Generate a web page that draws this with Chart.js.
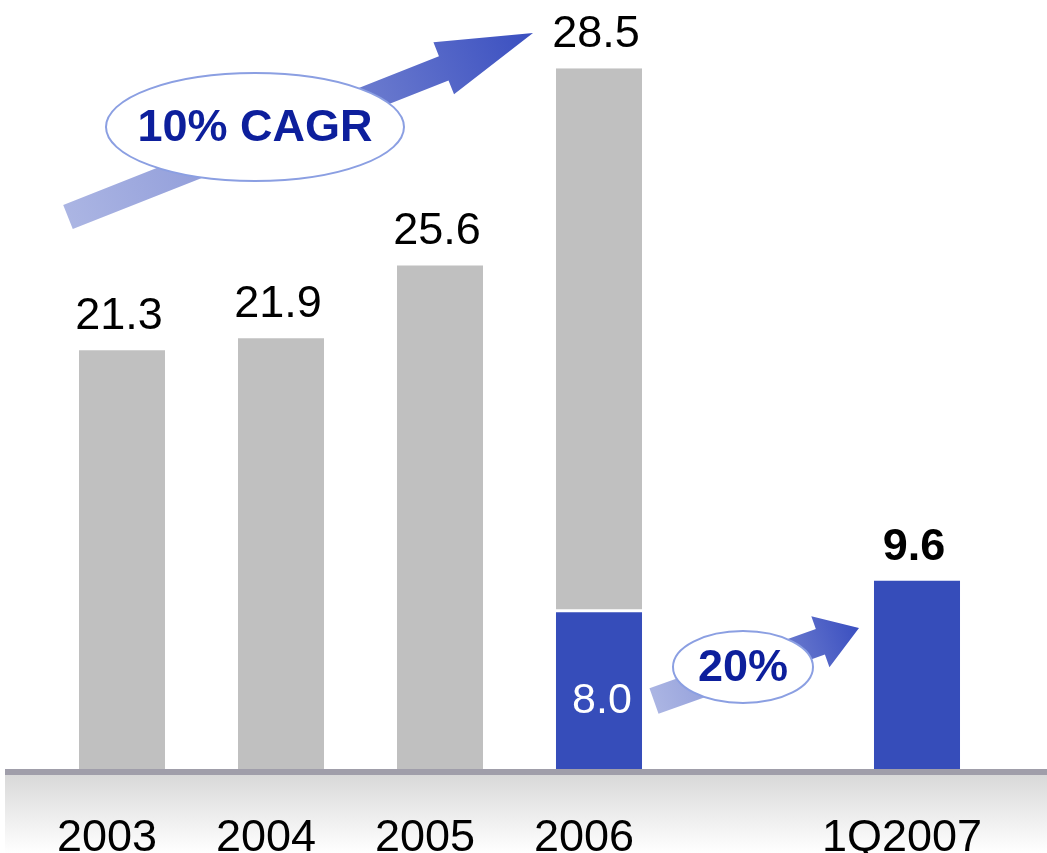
<!DOCTYPE html>
<html>
<head>
<meta charset="utf-8">
<script src="https://cdn.jsdelivr.net/npm/chart.js@4/dist/chart.umd.min.js"></script>
<style>
  html, body { margin: 0; padding: 0; background: #fff; }
  #wrap { width: 1047px; height: 853px; position: relative; }
</style>
</head>
<body>
<div id="wrap"><canvas id="chart"></canvas></div>
<script>
'use strict';

// 데이터
const categories  = ['2003', '2004', '2005', '2006', '', '1Q2007'];
const grayValues  = [21.3, 21.9, 25.6, 27.6, null, null];   // 2006 회색 구간은 그림의 막대 높이 기준
const blueValues  = [null, null, null, 8.0, null, 9.6];
const totalLabels = ['21.3', '21.9', '25.6', '28.5', '', '9.6'];
const innerLabels = ['', '', '', '8.0', '', ''];
const cagrText    = '10% CAGR';
const growthText  = '20%';

const FONT  = '"Liberation Sans", Arial, sans-serif';
const GRAY  = '#c0c0c0';
const BLUE  = '#364dba';
const NAVY  = '#0d1f9c';

// 화살표 (꼬리 → 끝)
function drawArrow(ctx, x0, y0, x1, y1, shaftHalf, headHalf, headLen) {
  const dx = x1 - x0, dy = y1 - y0;
  const len = Math.hypot(dx, dy);
  const ux = dx / len, uy = dy / len;
  const nx = -uy, ny = ux;
  const bx = x1 - ux * headLen, by = y1 - uy * headLen;

  const grad = ctx.createLinearGradient(x0, y0, x1, y1);
  grad.addColorStop(0, '#abb5e3');
  grad.addColorStop(0.45, '#8592d6');
  grad.addColorStop(1, '#3a4fc0');

  ctx.save();
  ctx.fillStyle = grad;
  ctx.beginPath();
  ctx.moveTo(x0 + nx * shaftHalf, y0 + ny * shaftHalf);
  ctx.lineTo(bx + nx * shaftHalf, by + ny * shaftHalf);
  ctx.lineTo(bx + nx * headHalf,  by + ny * headHalf);
  ctx.lineTo(x1, y1);
  ctx.lineTo(bx - nx * headHalf,  by - ny * headHalf);
  ctx.lineTo(bx - nx * shaftHalf, by - ny * shaftHalf);
  ctx.lineTo(x0 - nx * shaftHalf, y0 - ny * shaftHalf);
  ctx.closePath();
  ctx.fill();
  ctx.restore();
}

function drawBadge(ctx, cx, cy, rx, ry, text) {
  ctx.save();
  ctx.beginPath();
  ctx.ellipse(cx, cy, rx, ry, 0, 0, Math.PI * 2);
  ctx.fillStyle = '#ffffff';
  ctx.fill();
  ctx.lineWidth = 2;
  ctx.strokeStyle = '#8b9fe2';
  ctx.stroke();
  ctx.fillStyle = NAVY;
  ctx.font = `bold 45px ${FONT}`;
  ctx.textAlign = 'center';
  ctx.textBaseline = 'middle';
  ctx.fillText(text, cx, cy + 2);
  ctx.restore();
}

const decorPlugin = {
  id: 'decor',
  afterDatasetsDraw(chart) {
    const { ctx, chartArea, scales } = chart;
    const xs = scales.x, ys = scales.y;
    const base = chartArea.bottom;

    // 바닥 띠 + 기준선
    const band = ctx.createLinearGradient(0, base + 5, 0, chart.height);
    band.addColorStop(0, '#d9d9d9');
    band.addColorStop(1, '#ffffff');
    ctx.fillStyle = band;
    ctx.fillRect(5, base + 5, chart.width - 5, chart.height - base - 5);
    ctx.fillStyle = '#a09eaa';
    ctx.fillRect(5, base - 1, chart.width - 5, 6);

    // x축 라벨 (원본은 막대 중심보다 약간 왼쪽)
    ctx.save();
    ctx.fillStyle = '#000';
    ctx.font = `45px ${FONT}`;
    ctx.textAlign = 'center';
    ctx.textBaseline = 'alphabetic';
    categories.forEach((c, i) => {
      if (c) ctx.fillText(c, xs.getPixelForValue(i) - 15, base + 81);
    });

    // 막대 위 값
    totalLabels.forEach((t, i) => {
      if (!t) return;
      const top = (grayValues[i] || 0) + (blueValues[i] || 0);
      const y = ys.getPixelForValue(top) - 21;
      ctx.font = (i === 5 ? 'bold ' : '') + `45px ${FONT}`;
      ctx.fillText(t, xs.getPixelForValue(i) - 3, y);
    });

    // 막대 안 값
    ctx.fillStyle = '#fff';
    ctx.font = `43px ${FONT}`;
    innerLabels.forEach((t, i) => {
      if (t) ctx.fillText(t, xs.getPixelForValue(i) + 3, 713);
    });
    ctx.restore();

    // 성장률 화살표와 배지
    drawArrow(ctx, 68, 217, 533, 33, 13, 28, 96);
    drawBadge(ctx, 255, 127, 149, 54, cagrText);
    drawArrow(ctx, 654, 701, 859, 628, 13.5, 27, 41);
    drawBadge(ctx, 743, 667, 70, 36, growthText);
  },
};

new Chart(document.getElementById('chart'), {
  type: 'bar',
  data: {
    labels: categories,
    datasets: [
      {
        label: 'Q1',
        data: blueValues,
        backgroundColor: BLUE,
        borderWidth: 0,
        barPercentage: 0.541,
        categoryPercentage: 1,
      },
      {
        label: 'Rest',
        data: grayValues,
        backgroundColor: GRAY,
        borderColor: '#ffffff',
        // 누적 막대(2006)만 아래쪽에 흰 틈
        borderWidth: ctx => (blueValues[ctx.dataIndex] != null
          ? { top: 0, left: 0, right: 0, bottom: 3 } : 0),
        borderSkipped: false,
        barPercentage: 0.541,
        categoryPercentage: 1,
      },
    ],
  },
  options: {
    responsive: true,
    maintainAspectRatio: false,
    animation: false,
    layout: { padding: { left: 42.5, right: 50.5, top: 21, bottom: 83 } },
    plugins: {
      legend: { display: false },
      tooltip: { enabled: false },
    },
    scales: {
      x: { stacked: true, display: false },
      y: { stacked: true, display: false, min: 0, max: 38 },
    },
  },
  plugins: [decorPlugin],
});
</script>
</body>
</html>
